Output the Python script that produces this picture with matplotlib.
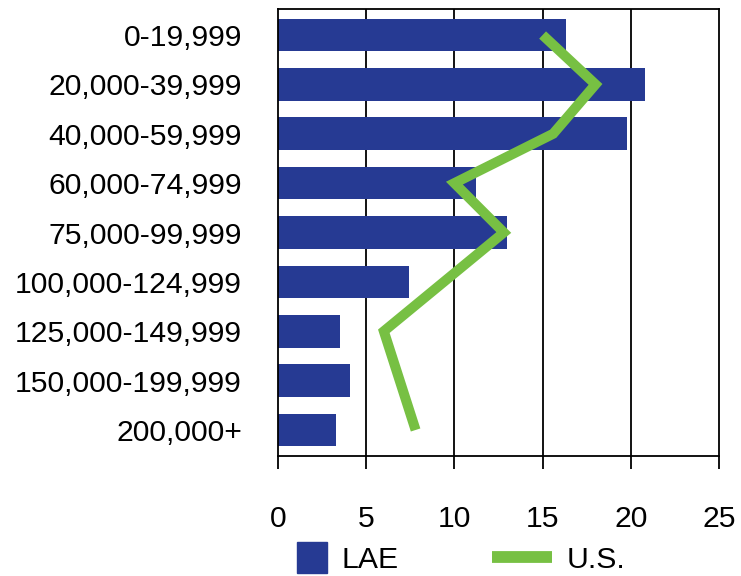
import matplotlib
matplotlib.use('Agg')
import matplotlib.pyplot as plt
from matplotlib.lines import Line2D
from matplotlib.patches import Rectangle
from matplotlib.legend_handler import HandlerPatch

# income brackets and shares (%)
categories = ['0-19,999', '20,000-39,999', '40,000-59,999', '60,000-74,999',
              '75,000-99,999', '100,000-124,999', '125,000-149,999',
              '150,000-199,999', '200,000+']
lae = [16.3, 20.8, 19.8, 11.2, 13.0, 7.4, 3.5, 4.1, 3.3]
us = [15.0, 18.0, 15.6, 10.0, 12.8, 9.4, 6.0, 6.9, 7.8]
xticks = [0, 5, 10, 15, 20, 25]

blue = '#263a93'
green = '#77c043'
fs = 21.7

plt.rcParams['font.family'] = ['Liberation Sans', 'DejaVu Sans']

fig = plt.figure(figsize=(7.41, 5.76), dpi=100)
ax = fig.add_axes([278 / 741, 1 - 456 / 576, (719 - 278) / 741, (456 - 9) / 576])

ypos = list(range(len(categories)))
ax.barh(ypos, lae, height=0.66, color=blue, zorder=2)
ax.plot(us, ypos, color=green, lw=7.2, solid_capstyle='butt',
        solid_joinstyle='miter', zorder=3)

ax.set_xlim(0, 25)
ax.set_ylim(8.527, -0.527)
ax.set_xticks(xticks)
ax.set_xticklabels([str(t) for t in xticks], fontsize=fs)
ax.set_yticks(ypos)
ax.set_yticklabels(categories, fontsize=fs)
ax.tick_params(axis='y', length=0, pad=26)
ax.tick_params(axis='x', length=9.4, width=1.3, pad=26, direction='out')
for x in xticks[1:-1]:
    ax.axvline(x, color='black', lw=1.3, zorder=1)
for s in ax.spines.values():
    s.set_linewidth(1.3)


def square_patch(legend, orig_handle, xdescent, ydescent, width, height, fontsize):
    return Rectangle((width - fontsize - xdescent, height / 2 - fontsize / 2 - ydescent),
                     fontsize, fontsize)


lae_handle = Rectangle((0, 0), 1, 1, color=blue)
us_handle = Line2D([], [], color=green, lw=8.5, solid_capstyle='butt')
fig.legend([lae_handle, us_handle], ['LAE', 'U.S.'], ncol=2, frameon=False,
           fontsize=fs, handlelength=2, handletextpad=0.47, columnspacing=3.1,
           borderpad=0, loc='center left',
           bbox_to_anchor=(252 / 741, 1 - 560 / 576),
           handler_map={Rectangle: HandlerPatch(patch_func=square_patch)})

fig.savefig('out.png', dpi=100)
